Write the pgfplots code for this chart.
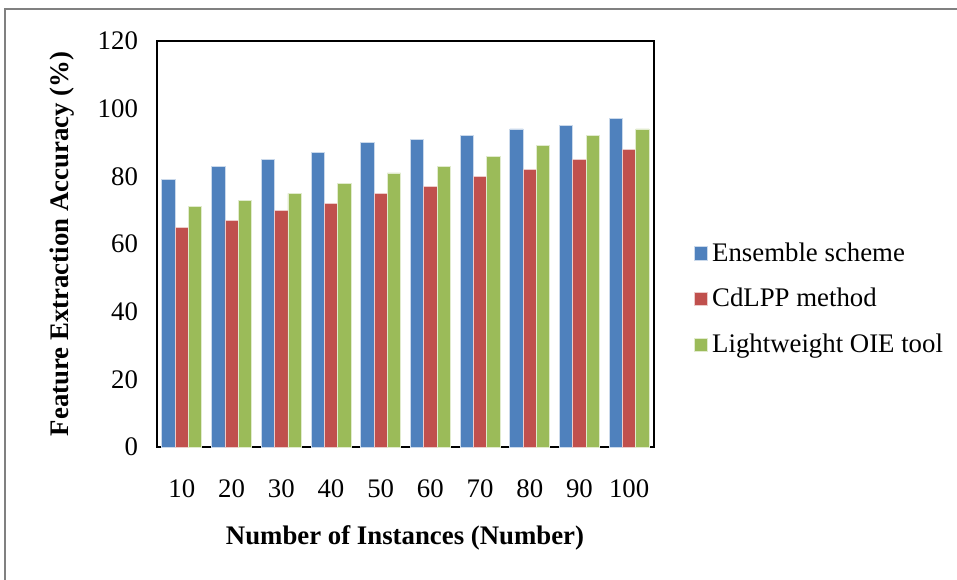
\documentclass[border=0pt]{standalone}
\usepackage{fontspec}
\setmainfont{Liberation Serif}
\usepackage{pgfplots}
\pgfplotsset{compat=1.18}
\definecolor{cblue}{HTML}{4F81BD}
\definecolor{cred}{HTML}{C0504D}
\definecolor{cgreen}{HTML}{9BBB59}
\begin{document}
\begin{tikzpicture}
\useasboundingbox (-78.5pt,-66pt) rectangle (400pt,223.5pt);
\draw[black!50, line width=1pt] (-76pt,-90pt) rectangle (420pt,219pt);
\begin{axis}[
  at={(0,0)}, anchor=south west,
  scale only axis, width=248.5pt, height=203pt,
  ybar=0pt, bar width=6.65pt,
  xmin=-0.5, xmax=9.5, ymin=0, ymax=120,
  xtick={0,...,9}, xticklabels={10,20,30,40,50,60,70,80,90,100},
  ytick={0,20,...,120},
  major tick length=0pt,
  axis line style={black, line width=0.9pt},
  /pgf/number format/assume math mode=true,
  tick label style={font=\fontsize{13.4}{15}\selectfont},
  yticklabel style={xshift=-6pt},
  xticklabel style={yshift=-13pt},
  xlabel={\textbf{Number of Instances (Number)}},
  ylabel={\textbf{Feature Extraction Accuracy (\%)}},
  every axis x label/.style={at={(axis description cs:0.499,-0.224)}, anchor=center, font=\fontsize{13.4}{15}\selectfont},
  every axis y label/.style={at={(axis description cs:-0.191,0.5)}, rotate=90, anchor=center, font=\fontsize{13.4}{15}\selectfont},
  legend style={draw=none, fill=none, at={(axis description cs:1.080,0.3645)}, anchor=west,
    inner sep=0pt, font=\fontsize{13.4}{15}\selectfont, row sep=8pt},
  legend cell align=left,
  legend image code/.code={\fill[#1] (0pt,-3.3pt) rectangle (6.6pt,3.3pt);},
]
\addplot[fill=cblue, draw=white!70!cblue, line width=0.4pt] coordinates {(0,79) (1,83) (2,85) (3,87) (4,90) (5,91) (6,92) (7,94) (8,95) (9,97)};
\addplot[fill=cred, draw=white!70!cred, line width=0.4pt] coordinates {(0,65) (1,67) (2,70) (3,72) (4,75) (5,77) (6,80) (7,82) (8,85) (9,88)};
\addplot[fill=cgreen, draw=white!70!cgreen, line width=0.4pt] coordinates {(0,71) (1,73) (2,75) (3,78) (4,81) (5,83) (6,86) (7,89) (8,92) (9,94)};
\legend{Ensemble scheme, CdLPP method, Lightweight OIE tool}
\end{axis}
\end{tikzpicture}
\end{document}
